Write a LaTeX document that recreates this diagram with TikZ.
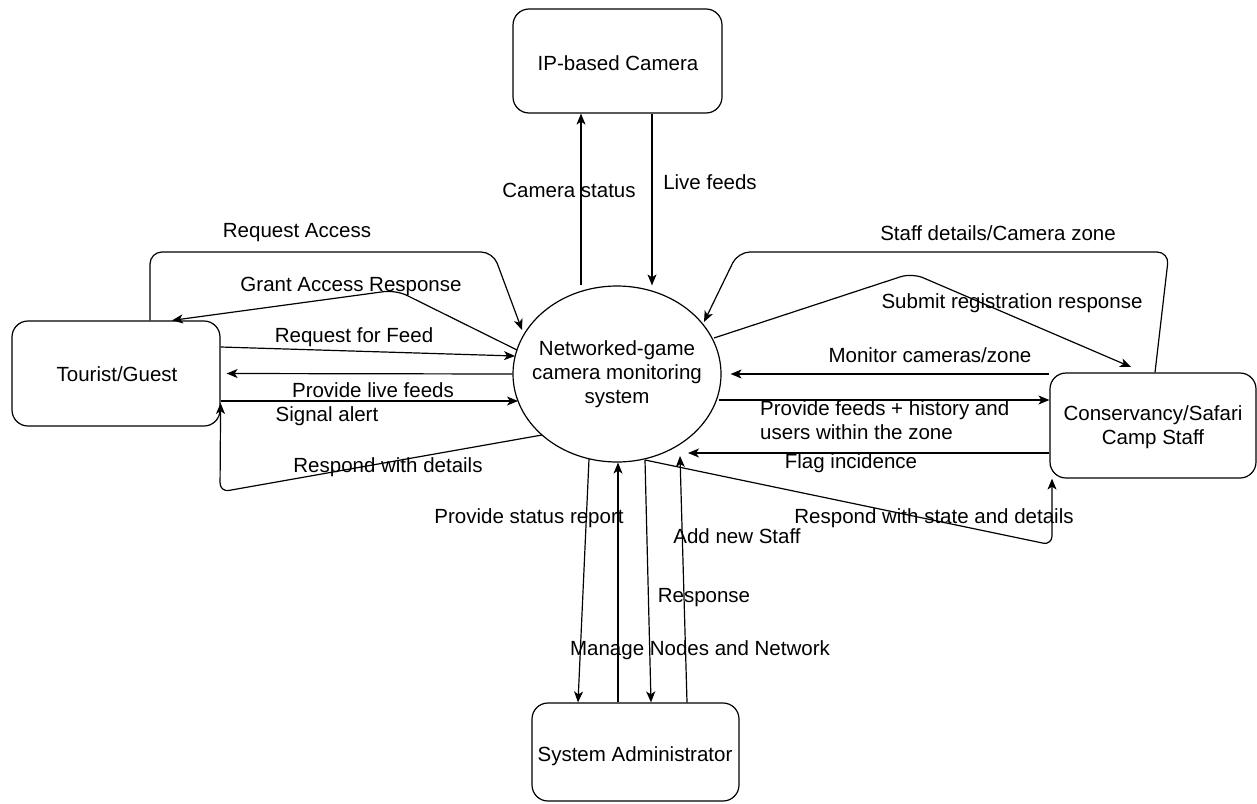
\documentclass[tikz,border=0pt]{standalone}
\usepackage{fontspec}
\setmainfont{Liberation Sans}
\usetikzlibrary{arrows.meta,shapes.geometric,calc}
\begin{document}
\begin{tikzpicture}[x=1pt,y=-1pt,
  every node/.style={font=\fontsize{20.5}{24}\selectfont},
  entity/.style={draw,line width=1.2pt,rounded corners=16pt,inner sep=0pt},
  process/.style={draw,line width=1.2pt,ellipse,inner sep=0pt,
    minimum width=208pt,minimum height=176pt,align=center},
  flow/.style={line width=1.2pt,-{Stealth[length=11pt,width=9pt,inset=3pt]}},
  bent/.style={flow,rounded corners=12pt},
  lbl/.style={inner sep=0pt,align=left}]
\useasboundingbox (0,0) rectangle (1257,803);

% external entities and the central process
\node[entity,minimum width=209pt,minimum height=104pt] (cam) at (617.5,61) {};
\node at (618,63) (camtxt) {IP-based Camera};
\node[entity,minimum width=208pt,minimum height=105pt] (tour) at (116,373.5) {};
\node at (117,374) (tourtxt) {Tourist/Guest};
\node[entity,minimum width=206pt,minimum height=105pt] (cons) at (1153,425.5) {};
\node[align=center] at (1153,427) (constxt) {Conservancy/Safari\\Camp Staff};
\node[entity,minimum width=207pt,minimum height=98pt] (adm) at (635.5,752) {};
\node at (635,756) (admtxt) {System Administrator};
\node[process] (sys) at (617,374) {};
\node[align=center] at (617,374) (systxt) {Networked-game\\camera monitoring\\system};

% camera flows
\draw[flow] (581,0 |- sys.north) -- (581,0 |- cam.south);
\draw[flow] (652,0 |- cam.south) -- (652,0 |- sys.north);
\node[lbl] at (569,190) (l1) {Camera status};
\node[lbl] at (710,182) (l2) {Live feeds};

% tourist flows
\draw[bent] (150,0 |- tour.north) -- (150,252) -- (493,252) -- ($(sys)+(-95,-44)$);
\draw[bent] ($(sys)+(-100,-24)$) -- (396,290) -- (172,0 |- tour.north);
\draw[flow] (tour.east |- 0,347) -- ($(sys)+(-102,-18)$);
\draw[flow] (sys.west) -- ($(tour.east)+(6,0)$);
\draw[flow] (tour.east |- 0,401) -- ($(sys)+(-99,27)$);
\draw[flow,rounded corners=9pt] ($(sys)+(-75,61)$) -- (220,492) -- (tour.east |- 0,403);
\node[lbl] at (297,233) (l3) {Request Access};
\node[lbl] at (351,286) (l4) {Grant Access Response};
\node[lbl] at (354,337) (l5) {Request for Feed};
\node[lbl] at (373,390) (l6) {Provide live feeds};
\node[lbl] at (327,416) (l7) {Signal alert};
\node[lbl] at (388,467) (l8) {Respond with details};

% staff flows
\draw[bent] (1155,0 |- cons.north) -- (1169,252) -- (738,252) -- ($(sys)+(87,-52)$);
\draw[bent] ($(sys)+(97,-36)$) -- (912,273) -- (1131,367);
\draw[flow] (cons.west |- 0,374) -- ($(sys.east)+(9,0)$);
\draw[flow] ($(sys)+(102,26)$) -- (cons.west |- 0,400);
\draw[flow] (cons.west |- 0,453) -- ($(sys)+(71,79)$);
\draw[flow,rounded corners=9pt] ($(sys)+(28,86)$) -- (1052,545) -- (1052,0 |- cons.south);
\node[lbl] at (998,233) (l9) {Staff details/Camera zone};
\node[lbl] at (1012,303) (l10) {Submit registration response};
\node[lbl] at (930,355) (l11) {Monitor cameras/zone};
\node[lbl,anchor=west] at (760,420) (l12) {Provide feeds + history and\\users within the zone};
\node[lbl] at (851,463) (l13) {Flag incidence};
\node[lbl] at (934,518) (l14) {Respond with state and details};

% administrator flows
\draw[flow] ($(sys)+(-28,85)$) -- (578,0 |- adm.north);
\draw[flow] (618,0 |- adm.north) -- ($(sys.south)+(1,0)$);
\draw[flow] ($(sys)+(28,86)$) -- (651,0 |- adm.north);
\draw[flow] (687,0 |- adm.north) -- ($(sys)+(63,82)$);
\node[lbl] at (529,518) (l15) {Provide status report};
\node[lbl] at (737,536) (l16) {Add new Staff};
\node[lbl] at (704,598) (l17) {Response};
\node[lbl] at (700,650) (l18) {Manage Nodes and Network};
\end{tikzpicture}
\end{document}
